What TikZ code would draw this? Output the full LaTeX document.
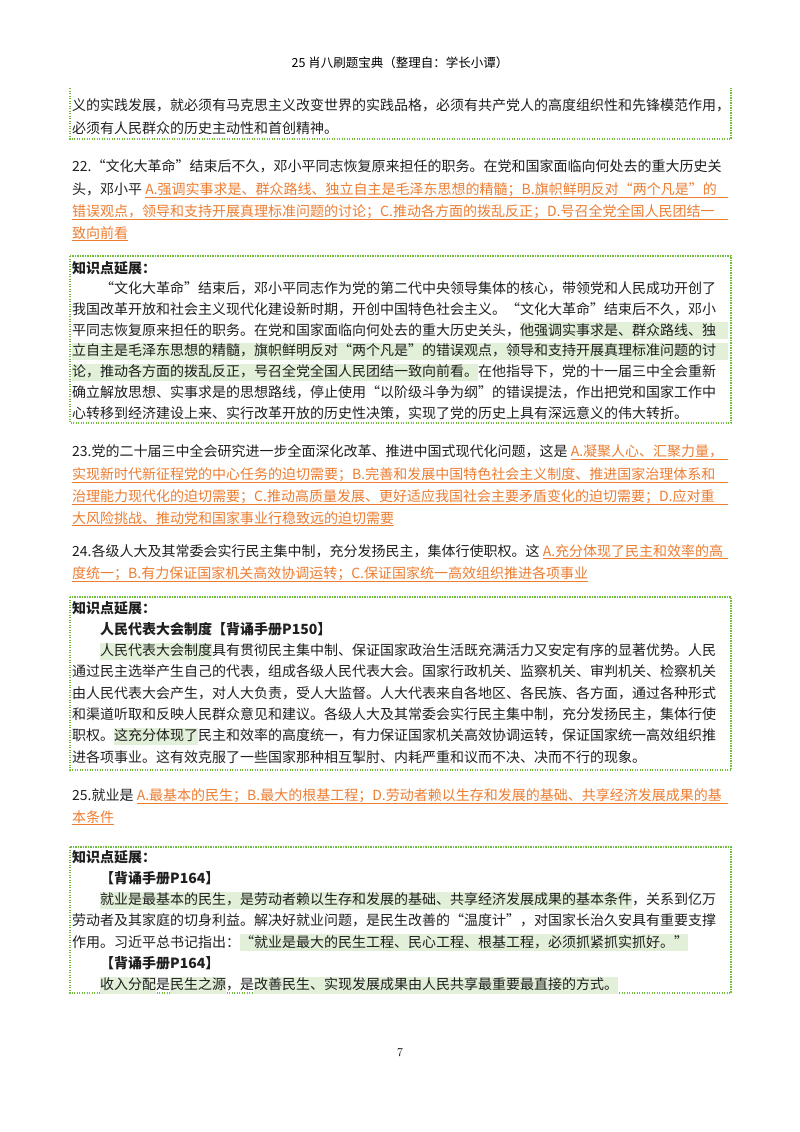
\documentclass[tikz,border=0pt]{standalone}
\usepackage{fontspec}
\usepackage{xcolor}
\newfontfamily\cjk{Noto Sans CJK SC}
\definecolor{ora}{RGB}{237,125,49}
\definecolor{grn}{RGB}{112,190,60}
\definecolor{hlc}{RGB}{226,239,217}
\XeTeXinterchartokenstate=1
\def\cg{\hskip0pt plus 3pt\relax}
\XeTeXinterchartoks 1 1 {\cg}
\XeTeXinterchartoks 1 2 {\cg}
\XeTeXinterchartoks 1 3 {\cg}
\XeTeXinterchartoks 2 1 {\cg}
\XeTeXinterchartoks 3 1 {\cg}
\XeTeXinterchartoks 3 2 {\cg}
\XeTeXinterchartoks 3 3 {\cg}
\XeTeXinterchartoks 0 1 {\cg}
\XeTeXinterchartoks 1 0 {\cg}
\XeTeXinterchartoks 3 0 {\cg}
\XeTeXinterchartoks 0 2 {\cg}
\XeTeXinterchartoks 0 3 {\cg}
\newlength\LW \setlength\LW{656pt}
\newcommand\J[1]{\hbox to \LW{#1}}
\newcommand\Lf[1]{\hbox to \LW{#1\hfil}}
\newcommand\hl[1]{{\setlength\fboxsep{0pt}\colorbox{hlc}{\rule[-4pt]{0pt}{17pt}#1}}}
\newcommand\ul[1]{{\color{ora}\underline{#1}}}
\newcommand\MixA[2]{\sbox0{#1}\hbox to \LW{\usebox0{\color{ora}\underline{\hbox to \dimexpr\LW-\wd0\relax{#2}}}}}
\newcommand\FullA[1]{{\color{ora}\underline{\hbox to \LW{#1}}}}
\newcommand\LastA[1]{\hbox to \LW{\ul{#1}\hfil}}
\newcommand\MixH[2]{\sbox0{#1}\hbox to \LW{\usebox0\hl{\hbox to \dimexpr\LW-\wd0\relax{#2}}}}
\newcommand\ind{\hspace*{28pt}}
\tikzset{
  ln/.style={anchor=base west, inner sep=0pt, text=black!88, font=\cjk\fontsize{14pt}{18pt}\selectfont},
  bf/.style={ln, font=\cjk\bfseries\fontsize{14pt}{18pt}\selectfont},
  kbox/.style={draw=grn, line width=1.3pt, dash pattern=on 1.2pt off 1.3pt},
}
\begin{document}
\begin{tikzpicture}[x=1pt,y=-1pt]
\useasboundingbox[fill=white] (0,0) rectangle (800,1132);
\node[anchor=base, inner sep=0pt, font=\cjk\fontsize{12.5pt}{15pt}\selectfont] (hdr) at (400,67) {25 肖八刷题宝典（整理自：学长小谭）};
% box 1
\draw[kbox] (70,88) -- (70,139) -- (731,139) -- (731,88);
\node[ln] (b1a) at (72,110) {\J{义的实践发展，就必须有马克思主义改变世界的实践品格，必须有共产党人的高度组织性和先锋模范作用，}};
\node[ln] (b1b) at (72,133) {\Lf{必须有人民群众的历史主动性和首创精神。}};
% Q22
\node[ln] (q22a) at (72,171) {\J{22.“文化大革命”结束后不久，邓小平同志恢复原来担任的职务。在党和国家面临向何处去的重大历史关}};
\node[ln] (q22b) at (72,194) {\MixA{头，邓小平 }{A.强调实事求是、群众路线、独立自主是毛泽东思想的精髓；B.旗帜鲜明反对“两个凡是”的}};
\node[ln] (q22c) at (72,216) {\FullA{错误观点，领导和支持开展真理标准问题的讨论；C.推动各方面的拨乱反正；D.号召全党全国人民团结一}};
\node[ln] (q22d) at (72,238) {\LastA{致向前看}};
% box 2
\draw[kbox] (70,256) rectangle (731,423);
\node[bf] (k2) at (72,273) {知识点延展：};
\node[ln] (b2a) at (72,293.7) {\J{\ind“文化大革命”结束后，邓小平同志作为党的第二代中央领导集体的核心，带领党和人民成功开创了}};
\node[ln] (b2b) at (72,314.4) {\J{我国改革开放和社会主义现代化建设新时期，开创中国特色社会主义。“文化大革命”结束后不久，邓小}};
\node[ln] (b2c) at (72,335.1) {\MixH{平同志恢复原来担任的职务。在党和国家面临向何处去的重大历史关头，}{他强调实事求是、群众路线、独}};
\node[ln] (b2d) at (72,355.9) {\hl{\J{立自主是毛泽东思想的精髓，旗帜鲜明反对“两个凡是”的错误观点，领导和支持开展真理标准问题的讨}}};
\node[ln] (b2e) at (72,376.6) {\J{\hl{论，推动各方面的拨乱反正，号召全党全国人民团结一致向前看。}在他指导下，党的十一届三中全会重新}};
\node[ln] (b2f) at (72,397.3) {\J{确立解放思想、实事求是的思想路线，停止使用“以阶级斗争为纲”的错误提法，作出把党和国家工作中}};
\node[ln] (b2g) at (72,418) {\Lf{心转移到经济建设上来、实行改革开放的历史性决策，实现了党的历史上具有深远意义的伟大转折。}};
% Q23
\node[ln] (q23a) at (72,456) {\MixA{23.党的二十届三中全会研究进一步全面深化改革、推进中国式现代化问题，这是 }{A.凝聚人心、汇聚力量，}};
\node[ln] (q23b) at (72,479) {\FullA{实现新时代新征程党的中心任务的迫切需要；B.完善和发展中国特色社会主义制度、推进国家治理体系和}};
\node[ln] (q23c) at (72,501) {\FullA{治理能力现代化的迫切需要；C.推动高质量发展、更好适应我国社会主要矛盾变化的迫切需要；D.应对重}};
\node[ln] (q23d) at (72,523) {\LastA{大风险挑战、推动党和国家事业行稳致远的迫切需要}};
% Q24
\node[ln] (q24a) at (72,556) {\MixA{24.各级人大及其常委会实行民主集中制，充分发扬民主，集体行使职权。这 }{A.充分体现了民主和效率的高}};
\node[ln] (q24b) at (72,578) {\LastA{度统一；B.有力保证国家机关高效协调运转；C.保证国家统一高效组织推进各项事业}};
% box 3
\draw[kbox] (70,597) rectangle (731,770);
\node[bf] (k3) at (72,613) {知识点延展：};
\node[bf] (k3t) at (72,634.3) {\ind 人民代表大会制度【背诵手册P150】};
\node[ln] (b3a) at (72,655.6) {\J{\ind\hl{人民代表大会制度}具有贯彻民主集中制、保证国家政治生活既充满活力又安定有序的显著优势。人民}};
\node[ln] (b3b) at (72,676.9) {\J{通过民主选举产生自己的代表，组成各级人民代表大会。国家行政机关、监察机关、审判机关、检察机关}};
\node[ln] (b3c) at (72,698.1) {\J{由人民代表大会产生，对人大负责，受人大监督。人大代表来自各地区、各民族、各方面，通过各种形式}};
\node[ln] (b3d) at (72,719.4) {\J{和渠道听取和反映人民群众意见和建议。各级人大及其常委会实行民主集中制，充分发扬民主，集体行使}};
\node[ln] (b3e) at (72,740.7) {\J{职权。\hl{这充分体现了}民主和效率的高度统一，有力保证国家机关高效协调运转，保证国家统一高效组织推}};
\node[ln] (b3f) at (72,762) {\Lf{进各项事业。这有效克服了一些国家那种相互掣肘、内耗严重和议而不决、决而不行的现象。}};
% Q25
\node[ln] (q25a) at (72,800) {\MixA{25.就业是 }{A.最基本的民生；B.最大的根基工程；D.劳动者赖以生存和发展的基础、共享经济发展成果的基}};
\node[ln] (q25b) at (72,822) {\LastA{本条件}};
% box 4
\draw[kbox] (70,847) rectangle (731,993);
\node[bf] (k4) at (72,862) {知识点延展：};
\node[bf] (k4t) at (72,883.3) {\ind【背诵手册P164】};
\node[ln] (b4a) at (72,904.6) {\J{\ind\hl{就业是最基本的民生，是劳动者赖以生存和发展的基础、共享经济发展成果的基本条件}，关系到亿万}};
\node[ln] (b4b) at (72,925.9) {\J{劳动者及其家庭的切身利益。解决好就业问题，是民生改善的“温度计”，对国家长治久安具有重要支撑}};
\node[ln] (b4c) at (72,947.1) {\Lf{作用。习近平总书记指出：\hl{“就业是最大的民生工程、民心工程、根基工程，必须抓紧抓实抓好。”}}};
\node[bf] (k4u) at (72,968.4) {\ind【背诵手册P164】};
\node[ln] (b4d) at (72,989.7) {\Lf{\ind\hl{收入分配}是\hl{民生之源}，是\hl{改善民生、实现发展成果由人民共享最重要最直接的方式。}}};
\node[anchor=base, inner sep=0pt, font=\fontsize{12pt}{14pt}\selectfont] (pg) at (400,1056) {7};
\end{tikzpicture}
\end{document}
